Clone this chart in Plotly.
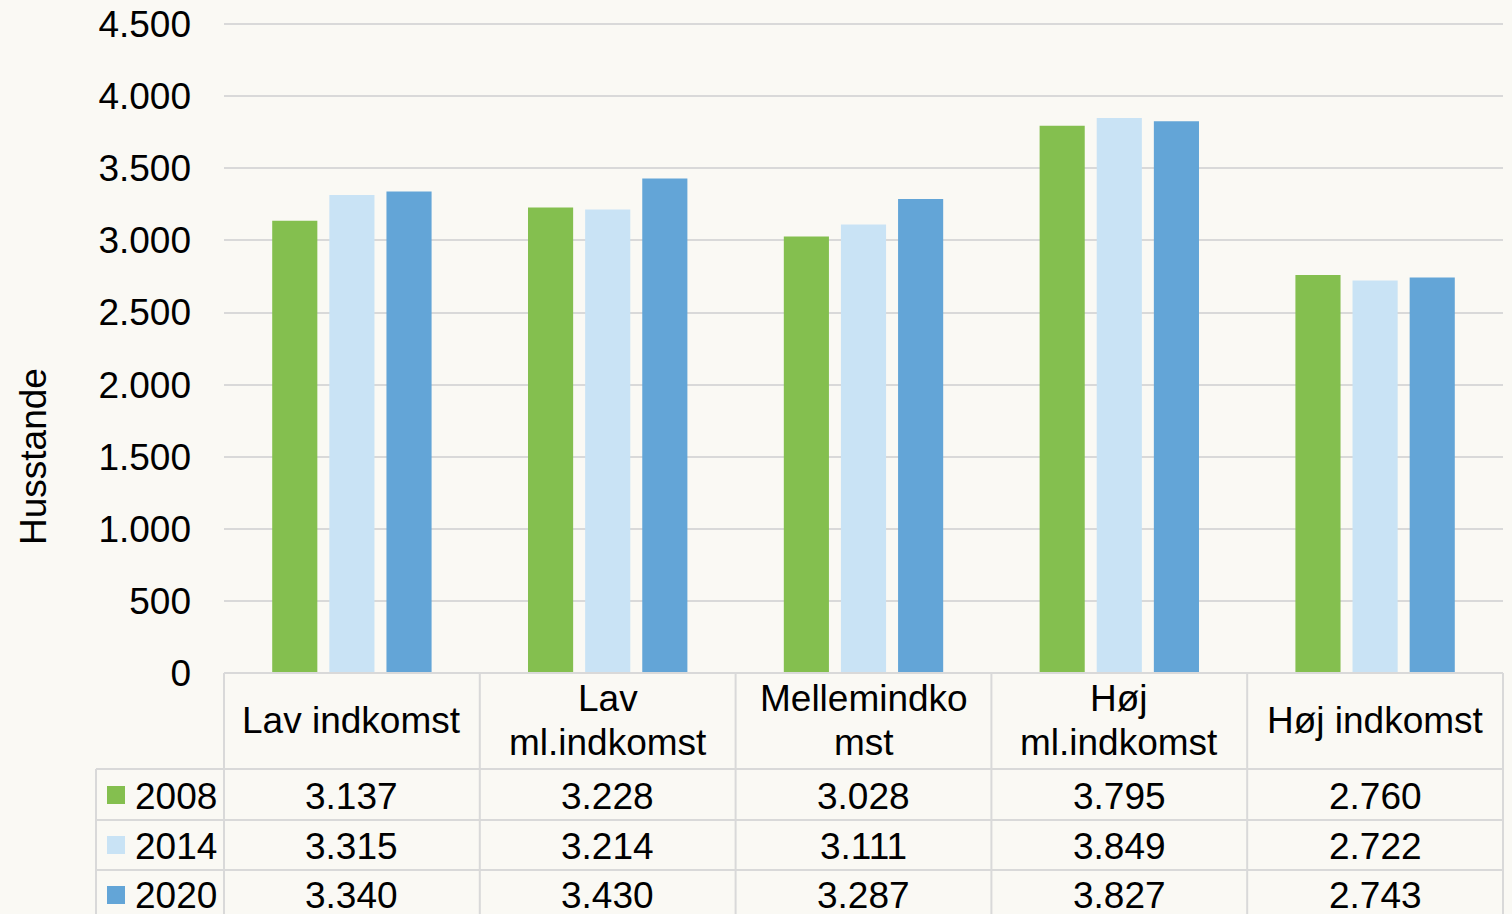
import plotly.graph_objects as go

categories = ["Lav indkomst", "Lav ml.indkomst", "Mellemindkomst", "Høj ml.indkomst", "Høj indkomst"]
header_lines = [["Lav indkomst"], ["Lav", "ml.indkomst"], ["Mellemindko", "mst"], ["Høj", "ml.indkomst"], ["Høj indkomst"]]
years = ["2008", "2014", "2020"]
v2008 = [3137, 3228, 3028, 3795, 2760]
v2014 = [3315, 3214, 3111, 3849, 2722]
v2020 = [3340, 3430, 3287, 3827, 2743]
series = [v2008, v2014, v2020]
colors = ["#84BF4F", "#C9E3F5", "#63A5D7"]
y_ticks = [0, 500, 1000, 1500, 2000, 2500, 3000, 3500, 4000, 4500]

W, H = 1512, 914
L, R, T, B = 224, 1503, 22, 673
YMAX = 4515
FONT = "Liberation Sans, Arial, sans-serif"
FS = 37
GRID = "#D9D9D9"
BG = "#FAF9F4"


def px(x):
    return (x - L) / (R - L)


def py(y):
    return (B - y) / (B - T)


def fmt(v):
    return f"{v:,}".replace(",", ".")


fig = go.Figure()
for name, vals, col in zip(years, series, colors):
    fig.add_trace(go.Bar(x=categories, y=vals, name=name, marker=dict(color=col, line=dict(width=0)),
                         showlegend=False, hoverinfo="x+y"))

shapes = []
line = dict(color=GRID, width=2)
# table horizontal lines
shapes.append(dict(type="line", xref="paper", yref="paper", x0=px(L), x1=px(R), y0=py(673), y1=py(673), line=line))
for yy in [769, 820, 870]:
    shapes.append(dict(type="line", xref="paper", yref="paper", x0=px(96), x1=px(R), y0=py(yy), y1=py(yy), line=line))
# vertical lines
col_edges = [L + i * (R - L) / len(categories) for i in range(len(categories) + 1)]
for xx in col_edges:
    shapes.append(dict(type="line", xref="paper", yref="paper", x0=px(xx), x1=px(xx), y0=py(673), y1=py(930), line=line))
shapes.append(dict(type="line", xref="paper", yref="paper", x0=px(96), x1=px(96), y0=py(769), y1=py(930), line=line))

annotations = []
row_centers = [795, 845, 895]
# legend keys and year labels
for yr, col, yc in zip(years, colors, row_centers):
    shapes.append(dict(type="rect", xref="paper", yref="paper", x0=px(107), x1=px(125),
                       y0=py(yc + 9), y1=py(yc - 9), fillcolor=col, line=dict(width=0)))
    annotations.append(dict(text=yr, xref="paper", yref="paper", x=px(133), y=py(yc + 1), xanchor="left",
                            yanchor="middle", showarrow=False, font=dict(family=FONT, size=FS, color="black")))

# headers and values
for i, lines in enumerate(header_lines):
    xc = (col_edges[i] + col_edges[i + 1]) / 2
    if len(lines) == 1:
        ys = [721]
    else:
        ys = [699, 742]
    for t, yy in zip(lines, ys):
        annotations.append(dict(text=t, xref="paper", yref="paper", x=px(xc), y=py(yy), xanchor="center",
                                yanchor="middle", showarrow=False, font=dict(family=FONT, size=FS, color="black")))
    for vals, yc in zip(series, row_centers):
        annotations.append(dict(text=fmt(vals[i]), xref="paper", yref="paper", x=px(xc), y=py(yc + 1),
                                xanchor="center", yanchor="middle", showarrow=False,
                                font=dict(family=FONT, size=FS, color="black")))

annotations.append(dict(text="Husstande", xref="paper", yref="paper", x=px(33), y=py(457), textangle=-90,
                        xanchor="center", yanchor="middle", showarrow=False,
                        font=dict(family=FONT, size=FS, color="black")))

fig.update_layout(
    width=W, height=H,
    margin=dict(l=L, r=W - R, t=T, b=H - B, pad=0, autoexpand=False),
    paper_bgcolor=BG, plot_bgcolor=BG,
    barmode="group", bargap=0.33, bargroupgap=0.21,
    separators=",.",
    font=dict(family=FONT, size=FS, color="black"),
    xaxis=dict(showticklabels=False, showgrid=False, zeroline=False, showline=False, ticks="", automargin=False),
    yaxis=dict(range=[0, YMAX], tickvals=y_ticks, tickformat=",d", showgrid=True, gridcolor=GRID, gridwidth=1.5,
               zeroline=False, showline=False, ticks="", ticklabelstandoff=32, automargin=False,
               tickfont=dict(family=FONT, size=FS, color="black")),
    shapes=shapes, annotations=annotations,
)

fig.write_html("out.html", config={"displayModeBar": False},
               post_script="document.body.style.margin='0';document.body.style.padding='0';"
                           "document.body.style.background='#FAF9F4';document.body.style.overflow='hidden';")
